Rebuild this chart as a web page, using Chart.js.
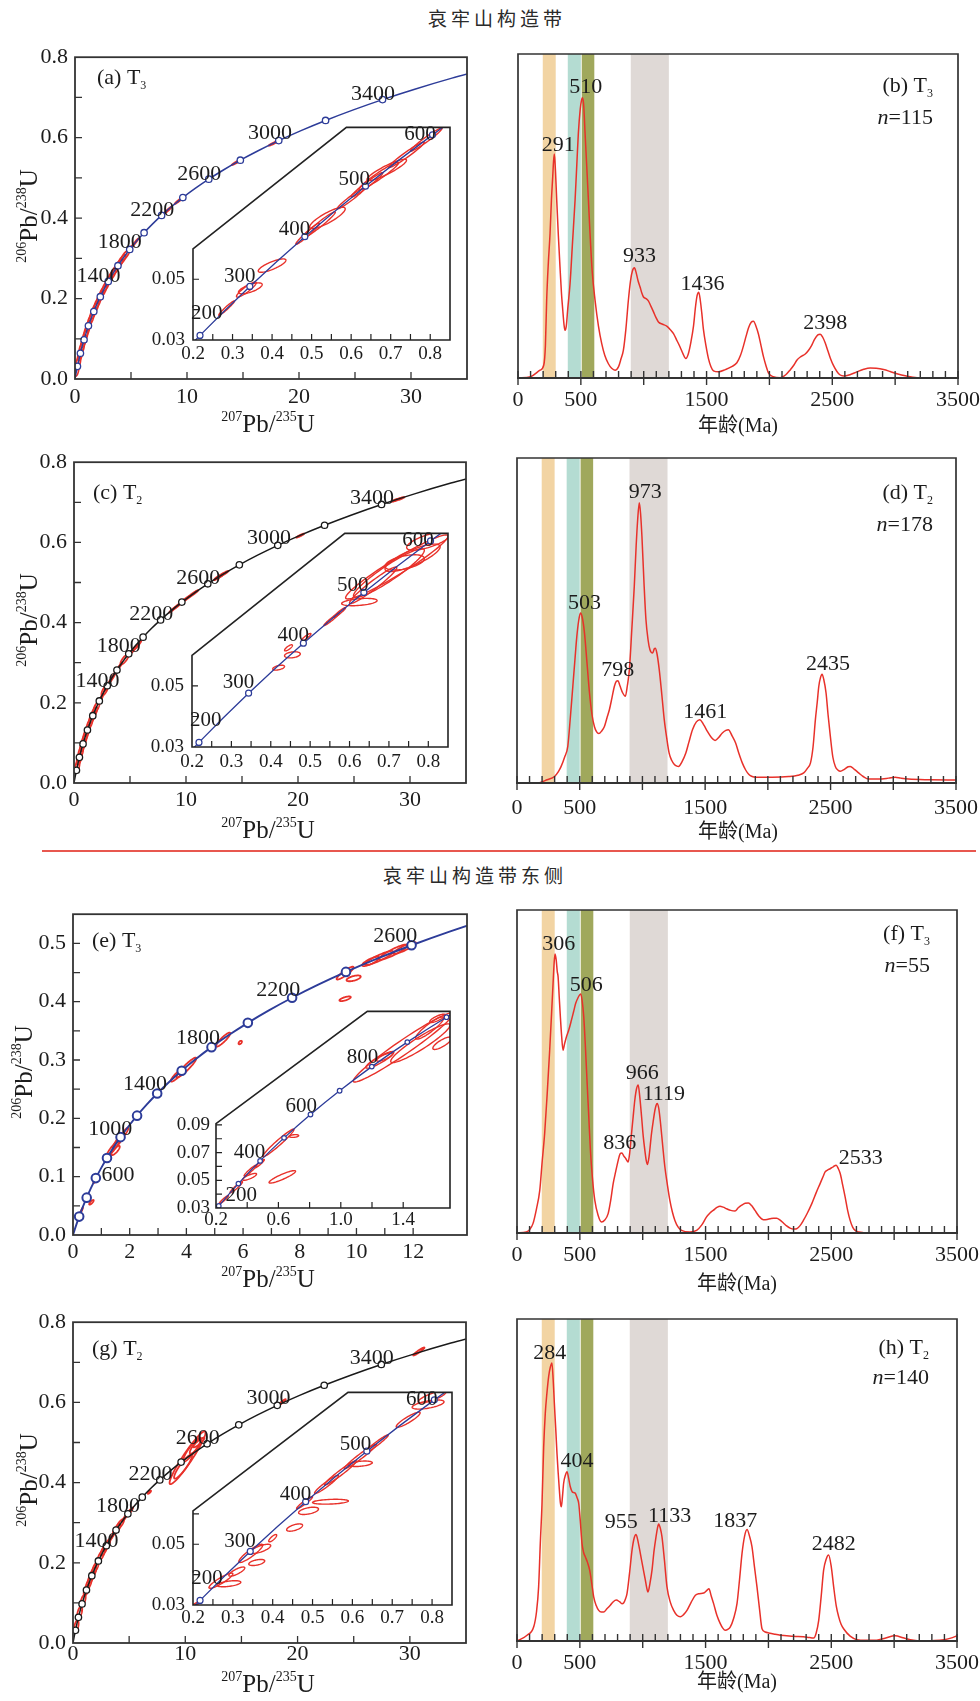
<!DOCTYPE html>
<html>
<head>
<meta charset="utf-8">
<script src="https://cdn.jsdelivr.net/npm/chart.js@4.4.1/dist/chart.umd.min.js"></script>
<style>
html,body{margin:0;padding:0;background:#fff;}
body{width:980px;height:1701px;position:relative;overflow:hidden;}
.ttl{position:absolute;font-family:'Noto Sans CJK SC',sans-serif;font-size:19px;line-height:20px;letter-spacing:4px;color:#2a2a2a;white-space:nowrap;}
.sep{position:absolute;left:42px;top:850px;width:934px;height:2px;background:#E8574F;}
</style>
</head>
<body>
<div class="ttl" style="left:428px;top:8px;">哀牢山构造带</div>
<div class="sep"></div>
<div class="ttl" style="left:383px;top:865px;">哀牢山构造带东侧</div>
<script>
// ================= DATA =================
// Concordia reference curve: age (Ma), 207Pb/235U, 206Pb/238U
const concAges = [0,100,200,300,400,500,600,700,800,900,1000,1100,1200,1300,1400,1500,1600,1700,1800,1900,2000,2100,2200,2300,2400,2500,2600,2700,2800,2900,3000,3100,3200,3300,3400,3500,3600,3700];
const concX = [0,0.1035,0.2177,0.3437,0.4828,0.6363,0.8057,0.9925,1.1987,1.4263,1.6774,1.9545,2.2603,2.5977,2.9700,3.3810,3.8344,4.3340,4.8868,5.4962,6.1685,6.9105,7.7292,8.6326,9.6295,10.7297,11.944,13.284,14.762,16.394,18.193,20.180,22.372,24.790,27.459,30.405,33.656,37.24];
const concY = [0,0.01563,0.03151,0.04764,0.06402,0.08065,0.09754,0.11470,0.13213,0.14983,0.16780,0.18606,0.20459,0.22343,0.24258,0.26199,0.28172,0.30175,0.32210,0.34277,0.36375,0.38509,0.40672,0.42873,0.45107,0.47375,0.49678,0.52019,0.54400,0.56810,0.59262,0.61751,0.64278,0.66848,0.69459,0.72106,0.74797,0.77520];

// Concordia age labels (text, x, y)
const mainAgeText = ['1400','1800','2200','2600','3000','3400'];
const mainAgeX = [2.1,4.0,6.9,11.1,17.4,26.6];
const mainAgeY = [0.255,0.341,0.42,0.51,0.61,0.709];
const insetAgeText = ['200','300','400','500','600'];
const insetAgeX = [0.235,0.318,0.457,0.608,0.774];
const insetAgeY = [0.0386,0.051,0.0665,0.083,0.0976];
const eAgeText = ['600','1000','1400','1800','2200','2600'];
const eAgeX = [1.59,1.31,2.54,4.41,7.24,11.37];
const eAgeY = [0.103,0.182,0.258,0.338,0.42,0.512];
const eInsetAgeText = ['200','400','600','800'];
const eInsetAgeX = [0.362,0.414,0.747,1.139];
const eInsetAgeY = [0.0392,0.0698,0.103,0.139];

// Error ellipses: [207Pb/235U, 206Pb/238U, half-width x, half-width y, correlation]
const ellA = [[0.15,0.0221,0.19,0.0150,0.45],[0.30,0.0420,0.20,0.0145,0.48],[0.45,0.0602,0.21,0.0145,0.50],[0.60,0.0767,0.22,0.0143,0.53],[0.75,0.0920,0.22,0.0142,0.56],[0.90,0.1062,0.23,0.0141,0.59],[1.05,0.1196,0.24,0.0140,0.62],[1.20,0.1322,0.25,0.0140,0.64],[1.40,0.1478,0.26,0.0138,0.67],[1.60,0.1623,0.27,0.0137,0.69],[1.80,0.1759,0.28,0.0136,0.70],[2.00,0.1888,0.28,0.0135,0.71],[2.25,0.2040,0.29,0.0134,0.72],[2.50,0.2180,0.30,0.0133,0.73],[2.75,0.2313,0.30,0.0132,0.74],[3.00,0.2440,0.31,0.0130,0.755],[3.30,0.2582,0.32,0.0128,0.76],[3.60,0.2715,0.33,0.0126,0.77],[3.90,0.2843,0.34,0.0125,0.775],[4.20,0.2964,0.34,0.0123,0.78],[4.50,0.3079,0.35,0.0122,0.787],[5.00,0.326,0.30,0.011,0.97],[5.40,0.340,0.25,0.009,0.97],[8.30,0.420,0.35,0.009,0.97],[9.30,0.444,0.40,0.009,0.97],[14.5,0.540,0.50,0.008,0.97],[17.8,0.587,0.50,0.007,0.97]];
const ellAin = [[0.285,0.0405,0.020,0.0024,0.97],[0.335,0.0466,0.025,0.0025,0.9],[0.345,0.0470,0.030,0.0018,0.7],[0.40,0.0545,0.035,0.0022,0.8],[0.49,0.0650,0.030,0.0035,0.97],[0.52,0.0680,0.040,0.0042,0.97],[0.54,0.0702,0.045,0.0035,0.85],[0.60,0.0767,0.035,0.0035,0.97],[0.64,0.0811,0.040,0.0040,0.97],[0.67,0.0840,0.050,0.0045,0.96],[0.69,0.0860,0.050,0.0035,0.9],[0.74,0.0910,0.045,0.0042,0.97],[0.79,0.0960,0.040,0.0038,0.97]];
const ellC = [[0.30,0.0420,0.20,0.0145,0.48],[0.45,0.0602,0.21,0.0145,0.50],[0.60,0.0767,0.22,0.0143,0.53],[0.75,0.0920,0.22,0.0142,0.56],[0.90,0.1062,0.23,0.0141,0.59],[1.05,0.1196,0.24,0.0140,0.62],[1.20,0.1322,0.25,0.0140,0.64],[1.40,0.1478,0.26,0.0138,0.67],[1.60,0.1623,0.27,0.0137,0.69],[1.80,0.1759,0.28,0.0136,0.70],[2.00,0.1888,0.28,0.0135,0.71],[2.40,0.210,0.25,0.014,0.95],[2.75,0.2313,0.30,0.0132,0.74],[3.00,0.243,0.30,0.015,0.97],[3.50,0.266,0.30,0.014,0.97],[4.00,0.288,0.30,0.012,0.97],[4.50,0.3079,0.35,0.0122,0.787],[5.30,0.332,0.35,0.012,0.97],[5.70,0.344,0.30,0.010,0.97],[8.80,0.432,0.30,0.007,0.97],[9.20,0.441,0.40,0.009,0.97],[9.90,0.457,0.50,0.010,0.97],[10.6,0.471,0.50,0.010,0.97],[12.9,0.513,0.40,0.007,0.95],[13.2,0.519,0.60,0.010,0.97],[20.2,0.617,0.35,0.005,0.95],[28.9,0.707,0.60,0.006,0.95]];
const ellCin = [[0.42,0.0560,0.015,0.0008,0.5],[0.455,0.0602,0.020,0.0010,0.3],[0.445,0.0625,0.010,0.0010,0.8],[0.49,0.0660,0.012,0.0012,0.9],[0.555,0.0719,0.020,0.0021,0.97],[0.575,0.0741,0.015,0.0016,0.95],[0.625,0.0775,0.045,0.0012,0.4],[0.66,0.0830,0.060,0.0060,0.96],[0.72,0.0890,0.130,0.0105,0.96],[0.70,0.0870,0.090,0.0080,0.93],[0.76,0.0920,0.070,0.0045,0.8],[0.80,0.0975,0.055,0.0030,0.7],[0.74,0.0905,0.050,0.0025,0.5]];
const ellE = [[0.30,0.042,0.05,0.005,0.95],[0.50,0.066,0.05,0.005,0.95],[0.65,0.056,0.08,0.004,0.8],[0.80,0.095,0.08,0.006,0.9],[1.40,0.148,0.20,0.012,0.9],[1.60,0.161,0.20,0.014,0.9],[1.50,0.145,0.15,0.008,0.8],[1.80,0.174,0.15,0.010,0.9],[3.70,0.275,0.25,0.012,0.9],[4.00,0.287,0.35,0.017,0.93],[5.30,0.335,0.25,0.012,0.9],[5.90,0.330,0.06,0.003,0.5],[9.60,0.449,0.30,0.011,0.9],[9.90,0.440,0.25,0.005,0.6],[9.60,0.405,0.20,0.004,0.7],[10.5,0.469,0.30,0.008,0.8],[10.8,0.475,0.50,0.012,0.9],[11.3,0.485,0.50,0.013,0.9],[11.7,0.492,0.40,0.010,0.9]];
const ellEin = [[0.25,0.036,0.03,0.003,0.95],[0.33,0.045,0.04,0.004,0.95],[0.42,0.057,0.04,0.004,0.95],[0.48,0.062,0.03,0.003,0.95],[0.415,0.0525,0.045,0.0025,0.8],[0.60,0.077,0.10,0.010,0.97],[0.70,0.082,0.03,0.001,0.3],[0.625,0.0525,0.085,0.0045,0.9],[1.25,0.137,0.09,0.006,0.9],[1.28,0.139,0.05,0.003,0.8],[1.40,0.146,0.32,0.025,0.97],[1.51,0.149,0.19,0.014,0.93],[1.57,0.160,0.09,0.008,0.9],[1.65,0.149,0.06,0.0045,0.8],[1.62,0.167,0.05,0.003,0.8]];
const ellG = [[0.30,0.0420,0.20,0.0145,0.48],[0.60,0.0767,0.22,0.0143,0.53],[0.90,0.1062,0.23,0.0141,0.59],[1.20,0.1322,0.25,0.0140,0.64],[1.40,0.1478,0.26,0.0138,0.67],[1.60,0.1623,0.27,0.0137,0.69],[1.80,0.1759,0.28,0.0136,0.70],[2.00,0.1888,0.28,0.0135,0.71],[2.20,0.201,0.20,0.010,0.95],[2.50,0.2180,0.30,0.0133,0.73],[2.75,0.2313,0.30,0.0132,0.74],[3.00,0.2440,0.31,0.0130,0.755],[3.20,0.254,0.30,0.013,0.95],[3.60,0.271,0.25,0.011,0.95],[3.90,0.2843,0.34,0.0125,0.775],[4.20,0.2964,0.34,0.0123,0.78],[4.60,0.312,0.25,0.010,0.95],[5.00,0.326,0.35,0.012,0.95],[6.80,0.376,0.15,0.004,0.8],[9.80,0.440,0.80,0.030,0.9],[10.2,0.462,1.60,0.066,0.95],[10.6,0.482,0.80,0.030,0.9],[10.9,0.490,0.50,0.018,0.85],[11.2,0.500,0.50,0.012,0.9],[18.6,0.600,0.35,0.008,0.95],[30.8,0.727,0.50,0.010,0.95]];
const ellGin = [[0.21,0.0305,0.012,0.0008,0.9],[0.27,0.0380,0.030,0.0025,0.9],[0.29,0.0370,0.030,0.0010,0.5],[0.31,0.0410,0.020,0.0015,0.8],[0.345,0.0470,0.030,0.0030,0.9],[0.37,0.0485,0.025,0.0015,0.7],[0.36,0.0440,0.020,0.0010,0.5],[0.40,0.0520,0.010,0.0012,0.8],[0.455,0.0555,0.020,0.0012,0.6],[0.49,0.0610,0.025,0.0012,0.5],[0.48,0.0637,0.020,0.0020,0.95],[0.545,0.0640,0.045,0.0008,0.3],[0.535,0.0697,0.030,0.0030,0.95],[0.57,0.0735,0.040,0.0040,0.97],[0.62,0.0765,0.030,0.0009,0.4],[0.62,0.0789,0.040,0.0040,0.97],[0.66,0.0830,0.030,0.0030,0.97],[0.74,0.0910,0.030,0.0025,0.9],[0.79,0.0960,0.040,0.0015,0.6],[0.80,0.0985,0.035,0.0020,0.8]];

// KDE curves: [age (Ma), relative density]
const kdeB = [[0,0],[100,0.004],[175,0.024],[205,0.04],[218,0.1],[228,0.24],[242,0.36],[255,0.446],[266,0.55],[276,0.62],[283,0.67],[289,0.691],[298,0.64],[308,0.549],[321,0.44],[334,0.343],[346,0.26],[356,0.21],[366,0.165],[374,0.147],[384,0.16],[395,0.21],[414,0.291],[434,0.42],[454,0.549],[468,0.66],[480,0.755],[495,0.83],[505,0.857],[512,0.865],[522,0.845],[533,0.76],[547,0.652],[560,0.55],[573,0.446],[590,0.33],[613,0.24],[640,0.16],[666,0.106],[690,0.07],[719,0.044],[745,0.03],[772,0.024],[800,0.035],[820,0.06],[838,0.085],[858,0.15],[878,0.24],[895,0.3],[910,0.33],[926,0.34],[940,0.325],[955,0.3],[971,0.281],[985,0.262],[998,0.25],[1015,0.246],[1037,0.238],[1057,0.222],[1077,0.205],[1097,0.187],[1117,0.173],[1150,0.166],[1183,0.16],[1210,0.15],[1237,0.137],[1265,0.115],[1290,0.095],[1312,0.075],[1335,0.06],[1355,0.075],[1375,0.11],[1396,0.16],[1412,0.22],[1425,0.255],[1438,0.265],[1450,0.24],[1462,0.2],[1475,0.15],[1495,0.1],[1515,0.06],[1535,0.035],[1555,0.022],[1595,0.019],[1650,0.026],[1700,0.035],[1741,0.047],[1770,0.07],[1794,0.1],[1815,0.13],[1834,0.155],[1855,0.172],[1873,0.175],[1893,0.16],[1913,0.135],[1933,0.1],[1953,0.065],[1975,0.035],[1993,0.015],[2030,0.004],[2086,0.001],[2130,0.01],[2165,0.025],[2195,0.04],[2218,0.055],[2250,0.066],[2285,0.074],[2310,0.085],[2335,0.1],[2360,0.12],[2385,0.133],[2404,0.135],[2425,0.125],[2444,0.108],[2464,0.085],[2484,0.062],[2510,0.038],[2537,0.02],[2560,0.01],[2590,0.006],[2640,0.01],[2696,0.019],[2750,0.027],[2802,0.031],[2850,0.03],[2908,0.026],[2960,0.02],[3014,0.013],[3090,0.006],[3174,0.001],[3300,0],[3500,0]];
const kdeD = [[0,0],[150,0],[180,0.001],[240,0.01],[299,0.02],[330,0.035],[352,0.051],[380,0.08],[405,0.113],[425,0.2],[445,0.297],[462,0.38],[477,0.451],[492,0.5],[506,0.523],[520,0.51],[538,0.462],[558,0.37],[578,0.277],[598,0.21],[617,0.174],[635,0.157],[652,0.152],[675,0.16],[697,0.174],[717,0.2],[737,0.226],[757,0.262],[776,0.297],[792,0.313],[805,0.315],[820,0.3],[843,0.277],[864,0.267],[880,0.3],[896,0.349],[915,0.47],[935,0.605],[950,0.73],[962,0.81],[975,0.862],[985,0.83],[996,0.759],[1012,0.62],[1028,0.503],[1045,0.44],[1060,0.41],[1081,0.4],[1095,0.413],[1102,0.415],[1115,0.4],[1134,0.349],[1155,0.27],[1174,0.195],[1195,0.135],[1213,0.092],[1233,0.07],[1253,0.058],[1275,0.052],[1288,0.051],[1315,0.065],[1346,0.092],[1370,0.125],[1399,0.164],[1430,0.188],[1457,0.195],[1490,0.178],[1518,0.159],[1550,0.14],[1579,0.131],[1608,0.14],[1637,0.154],[1665,0.162],[1685,0.164],[1715,0.145],[1743,0.123],[1770,0.09],[1796,0.062],[1823,0.04],[1849,0.026],[1875,0.02],[1902,0.018],[2035,0.018],[2167,0.02],[2240,0.024],[2286,0.031],[2315,0.045],[2340,0.062],[2360,0.11],[2379,0.195],[2394,0.25],[2406,0.297],[2420,0.325],[2432,0.335],[2445,0.32],[2464,0.277],[2480,0.21],[2498,0.144],[2518,0.08],[2538,0.051],[2558,0.04],[2578,0.036],[2610,0.042],[2640,0.05],[2657,0.051],[2690,0.042],[2724,0.031],[2760,0.02],[2803,0.012],[2880,0.012],[2962,0.015],[3015,0.018],[3060,0.015],[3121,0.012],[3300,0.01],[3500,0.009]];
const kdeF = [[0,0],[74,0.003],[100,0.01],[127,0.029],[155,0.075],[181,0.132],[200,0.22],[220,0.308],[240,0.43],[260,0.566],[275,0.68],[287,0.773],[296,0.84],[303,0.864],[312,0.845],[320,0.81],[327,0.793],[336,0.73],[345,0.669],[355,0.61],[366,0.566],[378,0.585],[393,0.607],[413,0.63],[433,0.659],[450,0.685],[467,0.711],[487,0.73],[500,0.738],[507,0.74],[518,0.72],[531,0.669],[545,0.57],[558,0.463],[571,0.36],[584,0.256],[600,0.17],[619,0.101],[645,0.055],[672,0.034],[698,0.04],[725,0.06],[745,0.1],[765,0.153],[785,0.19],[805,0.225],[820,0.245],[834,0.248],[850,0.238],[866,0.23],[884,0.22],[897,0.25],[911,0.308],[924,0.36],[937,0.411],[950,0.445],[964,0.458],[977,0.42],[991,0.36],[1004,0.3],[1017,0.256],[1028,0.225],[1038,0.212],[1050,0.235],[1070,0.308],[1085,0.35],[1097,0.38],[1106,0.395],[1115,0.401],[1128,0.385],[1142,0.339],[1159,0.27],[1176,0.205],[1196,0.15],[1216,0.101],[1236,0.065],[1256,0.039],[1282,0.018],[1309,0.008],[1376,0.003],[1429,0.008],[1470,0.025],[1508,0.05],[1535,0.062],[1561,0.07],[1590,0.079],[1615,0.083],[1640,0.08],[1668,0.075],[1700,0.07],[1734,0.068],[1760,0.078],[1787,0.086],[1815,0.092],[1840,0.093],[1866,0.085],[1893,0.07],[1925,0.052],[1960,0.041],[1990,0.042],[2013,0.044],[2040,0.046],[2066,0.046],[2093,0.04],[2119,0.031],[2145,0.022],[2172,0.015],[2200,0.012],[2225,0.013],[2250,0.022],[2278,0.039],[2310,0.062],[2345,0.091],[2380,0.125],[2411,0.153],[2435,0.175],[2451,0.189],[2470,0.195],[2491,0.199],[2515,0.205],[2539,0.21],[2555,0.2],[2571,0.184],[2590,0.15],[2610,0.112],[2630,0.07],[2650,0.039],[2670,0.018],[2690,0.008],[2720,0.003],[2756,0.001],[2800,0],[3500,0]];
const kdeH = [[0,0],[80,0.018],[133,0.044],[155,0.09],[172,0.168],[185,0.3],[199,0.427],[212,0.6],[225,0.707],[238,0.77],[252,0.822],[265,0.85],[278,0.863],[288,0.81],[297,0.739],[308,0.66],[318,0.583],[328,0.52],[337,0.469],[345,0.43],[353,0.417],[362,0.45],[371,0.49],[385,0.515],[398,0.526],[411,0.505],[424,0.479],[440,0.463],[452,0.461],[464,0.459],[478,0.445],[491,0.427],[504,0.37],[517,0.303],[530,0.275],[544,0.261],[560,0.245],[578,0.22],[594,0.18],[610,0.137],[630,0.11],[650,0.095],[670,0.09],[689,0.09],[715,0.1],[742,0.111],[766,0.122],[790,0.127],[815,0.122],[835,0.116],[848,0.118],[862,0.13],[875,0.147],[895,0.21],[915,0.282],[932,0.32],[947,0.331],[965,0.305],[981,0.272],[1001,0.23],[1021,0.189],[1032,0.165],[1042,0.152],[1058,0.18],[1074,0.22],[1090,0.28],[1106,0.324],[1117,0.35],[1127,0.363],[1140,0.35],[1153,0.324],[1173,0.25],[1193,0.168],[1220,0.12],[1246,0.095],[1272,0.08],[1299,0.075],[1325,0.082],[1352,0.095],[1385,0.12],[1419,0.142],[1450,0.147],[1485,0.149],[1510,0.157],[1527,0.162],[1545,0.14],[1564,0.116],[1590,0.08],[1617,0.054],[1637,0.04],[1657,0.033],[1677,0.036],[1697,0.044],[1723,0.07],[1750,0.116],[1770,0.19],[1790,0.272],[1810,0.325],[1830,0.346],[1850,0.325],[1869,0.293],[1889,0.23],[1909,0.168],[1929,0.1],[1949,0.038],[1975,0.028],[2002,0.025],[2050,0.021],[2095,0.018],[2200,0.015],[2307,0.012],[2360,0.009],[2380,0.025],[2400,0.064],[2420,0.14],[2439,0.22],[2460,0.255],[2479,0.267],[2500,0.23],[2519,0.168],[2539,0.11],[2559,0.075],[2578,0.052],[2598,0.038],[2650,0.015],[2705,0.004],[2770,0.002],[2837,0.002],[2920,0.008],[3009,0.016],[3070,0.01],[3129,0.004],[3235,0],[3300,0.001],[3394,0.004],[3450,0.009],[3500,0.016]];

// Peak age labels: text, label-anchor age, label-anchor density
const peaksB = [['291',321,0.719],['510',539,0.897],['933',966,0.376],['1436',1467,0.289],['2398',2444,0.168]];
const peaksD = [['503',538,0.552],['798',803,0.347],['973',1023,0.894],['1461',1500,0.217],['2435',2480,0.366]];
const peaksF = [['306',332,0.894],['506',550,0.768],['836',818,0.277],['966',996,0.496],['1119',1168,0.429],['2533',2735,0.233]];
const peaksH = [['284',260,0.894],['404',477,0.559],['955',830,0.37],['1133',1214,0.388],['1837',1737,0.373],['2482',2519,0.3]];

// Shaded age intervals (Ma)
const bandStart = [197,396,507,897];
const bandEnd = [300,500,607,1200];
const bandColor = ['#F2D4A3','#B4DCD2','#A0A85C','#DFD9D6'];
const kdeTickLabels = [0,500,1500,2500,3500];

// ================= DRAWING =================
const SERIF = "'Liberation Serif','Times New Roman',serif";
Chart.defaults.font.family = SERIF;
Chart.defaults.color = '#1c1c1c';
const INK = '#1c1c1c', FRAME = '#333333', BLUE = '#2D3C99', BLACK = '#1a1a1a', RED = '#E8312A';

function mk(l,t,w,h){const c=document.createElement('canvas');c.width=w;c.height=h;c.style.cssText='position:absolute;left:'+l+'px;top:'+t+'px;width:'+w+'px;height:'+h+'px;';document.body.appendChild(c);return c;}
function font(size,style){return (style||'')+' '+size+'px '+SERIF;}
function isMult(v,m){const q=v/m;return Math.abs(q-Math.round(q))<1e-6;}
function inList(v,l){return l.some(x=>Math.abs(x-v)<1e-6);}
function rich(ctx,x,y,segs,align){
  let w=0;
  for(const s of segs){ctx.font=font(s.size,s.style);s.w=ctx.measureText(s.t).width;w+=s.w;}
  let cx=align==='right'?x-w:align==='center'?x-w/2:x;
  ctx.textAlign='left';ctx.textBaseline='alphabetic';ctx.fillStyle=INK;
  for(const s of segs){ctx.font=font(s.size,s.style);ctx.fillText(s.t,cx,y+(s.dy||0));cx+=s.w;}
}
function isoSegs(a,b){return [{t:a,size:14,dy:-11},{t:'Pb/',size:25},{t:b,size:14,dy:-11},{t:'U',size:25}];}
function ctext(ctx,t,x,y,size){ctx.font=font(size);ctx.fillStyle=INK;ctx.textAlign='center';ctx.textBaseline='middle';ctx.fillText(t,x,y);}
function drawEll(c,list,lw){
  const ctx=c.ctx,xs=c.scales.x,ys=c.scales.y;
  ctx.save();ctx.strokeStyle=RED;ctx.lineWidth=lw;
  for(const [x,y,sx,sy,r] of list){
    const q=Math.sqrt(1-r*r);ctx.beginPath();
    for(let i=0;i<=64;i++){const t=i/64*2*Math.PI;const px=xs.getPixelForValue(x+sx*Math.cos(t)),py=ys.getPixelForValue(y+sy*(r*Math.cos(t)+q*Math.sin(t)));if(i===0)ctx.moveTo(px,py);else ctx.lineTo(px,py);}
    ctx.closePath();ctx.stroke();
  }
  ctx.restore();
}
function baseOpts(){return {responsive:false,devicePixelRatio:1,animation:false,events:[],plugins:{legend:{display:false},tooltip:{enabled:false}}};}
function concPoints(filter){return concAges.map((a,i)=>({age:a,x:concX[i],y:concY[i]})).filter(filter);}

function concordiaMain(o){
  const P=o.plot, cl=o.cl, ct=P.t-16, cw=o.cw, ch=P.b+70-ct;
  const cv=mk(cl,ct,cw,ch);
  const opts=baseOpts();
  opts.layout={padding:{left:0,right:cl+cw-P.r,top:16,bottom:0}};
  opts.scales={
    x:{type:'linear',min:0,max:o.xMax,grid:{display:false,drawTicks:false},border:{display:false},
       ticks:{stepSize:o.xStep,autoSkip:false,maxRotation:0,minRotation:0,padding:o.xPad,font:{size:22,family:SERIF},color:INK,
       callback:v=>isMult(v,o.xLab)?String(Math.round(v)):''},
       afterFit:s=>{s.height=70;}},
    y:{type:'linear',min:0,max:o.yMax,grid:{display:false,drawTicks:false},border:{display:false},
       ticks:{stepSize:o.yStep,autoSkip:false,padding:7,font:{size:22,family:SERIF},color:INK,
       callback:v=>isMult(v,o.yLab)?v.toFixed(1):''},
       afterFit:s=>{s.width=P.l-cl;}}
  };
  new Chart(cv,{type:'scatter',
    data:{datasets:[
      {data:concPoints(p=>p.age>0&&p.age%200===0&&p.age<=o.maxMark),showLine:false,pointRadius:o.mr,pointBorderWidth:o.mw,pointBorderColor:o.color,pointBackgroundColor:'#fff'},
      {data:concPoints(()=>true),showLine:true,borderColor:o.color,borderWidth:o.lw,pointRadius:0,cubicInterpolationMode:'monotone'}
    ]},
    options:opts,
    plugins:[{id:'cm',
      beforeDatasetsDraw(c){const a=c.chartArea,ctx=c.ctx;ctx.save();ctx.beginPath();ctx.rect(a.left,a.top,a.right-a.left,a.bottom-a.top);ctx.clip();drawEll(c,o.ell,1.8);ctx.restore();},
      afterDraw(c){
        const ctx=c.ctx,a=c.chartArea,xs=c.scales.x,ys=c.scales.y;
        ctx.save();
        ctx.strokeStyle=FRAME;ctx.lineWidth=1.8;ctx.strokeRect(a.left,a.top,a.right-a.left,a.bottom-a.top);
        ctx.lineWidth=1.3;ctx.beginPath();
        xs.ticks.forEach(t=>{const p=xs.getPixelForValue(t.value);if(p>a.left+1&&p<a.right-1){ctx.moveTo(p,a.bottom);ctx.lineTo(p,a.bottom-7);}});
        ys.ticks.forEach(t=>{const p=ys.getPixelForValue(t.value);if(p>a.top+1&&p<a.bottom-1){ctx.moveTo(a.left,p);ctx.lineTo(a.left+7,p);}});
        ctx.stroke();
        o.lab[0].forEach((s,i)=>ctext(ctx,s,xs.getPixelForValue(o.lab[1][i]),ys.getPixelForValue(o.lab[2][i]),22));
        rich(ctx,o.pl.x-cl,o.pl.y-ct+7,[{t:o.pl.t,size:22},{t:o.pl.sub,size:12,dy:5}],'left');
        rich(ctx,o.xt.x-cl,o.xt.y-ct,isoSegs('207','235'),'center');
        ctx.save();ctx.translate(o.yt.x-cl,o.yt.y-ct);ctx.rotate(-Math.PI/2);rich(ctx,0,0,isoSegs('206','238'),'center');ctx.restore();
        ctx.restore();
      }}]
  });
}

function pentPath(ctx,c,o){
  const a=c.chartArea,xs=c.scales.x,ys=c.scales.y;
  const LT=ys.getPixelForValue(o.cutY),DX=xs.getPixelForValue(o.cutX);
  ctx.beginPath();ctx.moveTo(a.left,a.bottom);ctx.lineTo(a.left,LT);ctx.lineTo(DX,a.top);ctx.lineTo(a.right,a.top);ctx.lineTo(a.right,a.bottom);ctx.closePath();
  return LT;
}

function concordiaInset(o){
  const R=o.rect, cl=R.l-52, ct=R.t-14, cw=R.r+10-cl, ch=R.b+34-ct;
  const cv=mk(cl,ct,cw,ch);
  const opts=baseOpts();
  opts.layout={padding:{left:0,right:10,top:14,bottom:0}};
  opts.scales={
    x:{type:'linear',min:o.xMin,max:o.xMax,grid:{display:false,drawTicks:false},border:{display:false},
       ticks:{stepSize:o.xStep,autoSkip:false,maxRotation:0,minRotation:0,padding:o.xPad,font:{size:19,family:SERIF},color:INK,
       callback:v=>inList(v,o.xLabs)?v.toFixed(1):''},
       afterFit:s=>{s.height=34;}},
    y:{type:'linear',min:0.03,max:o.yMax,grid:{display:false,drawTicks:false},border:{display:false},
       ticks:{stepSize:0.01,autoSkip:false,padding:o.yPad,font:{size:19,family:SERIF},color:INK,
       callback:v=>inList(v,o.yLabs)?v.toFixed(2):''},
       afterFit:s=>{s.width=52;}}
  };
  new Chart(cv,{type:'scatter',
    data:{datasets:[
      {data:concPoints(p=>p.age>=200&&p.age<=o.maxMark),showLine:false,pointRadius:o.mr,pointBorderWidth:1.2,pointBorderColor:BLUE,pointBackgroundColor:'#fff'},
      {data:concPoints(p=>p.age<=o.maxLine),showLine:true,borderColor:BLUE,borderWidth:1.3,pointRadius:0,cubicInterpolationMode:'monotone'}
    ]},
    options:opts,
    plugins:[{id:'ci',
      beforeDraw(c){const ctx=c.ctx;ctx.save();pentPath(ctx,c,o);ctx.fillStyle='#fff';ctx.fill();ctx.restore();},
      beforeDatasetsDraw(c){const ctx=c.ctx;ctx.save();pentPath(ctx,c,o);ctx.clip();drawEll(c,o.ell,1.4);},
      afterDatasetsDraw(c){c.ctx.restore();},
      afterDraw(c){
        const ctx=c.ctx,a=c.chartArea,xs=c.scales.x,ys=c.scales.y;
        ctx.save();
        ctx.strokeStyle='#222';ctx.lineWidth=1.6;const LT=pentPath(ctx,c,o);ctx.stroke();
        ctx.lineWidth=1.2;ctx.beginPath();
        xs.ticks.forEach(t=>{const p=xs.getPixelForValue(t.value);if(p>a.left+1&&p<a.right-1){ctx.moveTo(p,a.bottom);ctx.lineTo(p,a.bottom-6);}});
        ys.ticks.forEach(t=>{const p=ys.getPixelForValue(t.value);if(p>LT+1&&p<a.bottom-1){ctx.moveTo(a.left,p);ctx.lineTo(a.left+6,p);}});
        ctx.stroke();
        o.lab[0].forEach((s,i)=>ctext(ctx,s,xs.getPixelForValue(o.lab[1][i]),ys.getPixelForValue(o.lab[2][i]),21));
        ctx.restore();
      }}]
  });
}

function kde(o){
  const P=o.plot, cl=490, ct=P.t-16, cw=500, ch=P.b+70-ct;
  const cv=mk(cl,ct,cw,ch);
  const opts=baseOpts();
  opts.layout={padding:{left:0,right:cl+cw-P.r,top:16,bottom:0}};
  opts.scales={
    x:{type:'linear',min:0,max:3500,grid:{display:false,drawTicks:false},border:{display:false},
       ticks:{stepSize:100,autoSkip:false,maxRotation:0,minRotation:0,padding:o.xPad,font:{size:22,family:SERIF},color:INK,
       callback:v=>(isMult(v,1)&&kdeTickLabels.includes(Math.round(v)))?String(Math.round(v)):''},
       afterFit:s=>{s.height=70;}},
    y:{type:'linear',display:true,min:0,max:1,grid:{display:false,drawTicks:false},border:{display:false},
       ticks:{display:false},afterFit:s=>{s.width=P.l-cl;}}
  };
  new Chart(cv,{type:'scatter',
    data:{datasets:[{data:o.data.map(d=>({x:d[0],y:d[1]})),showLine:true,borderColor:RED,borderWidth:1.5,pointRadius:0,cubicInterpolationMode:'monotone'}]},
    options:opts,
    plugins:[{id:'kd',
      beforeDatasetsDraw(c){const ctx=c.ctx,a=c.chartArea,xs=c.scales.x;ctx.save();bandStart.forEach((s,i)=>{const x0=xs.getPixelForValue(s),x1=xs.getPixelForValue(bandEnd[i]);ctx.fillStyle=bandColor[i];ctx.fillRect(x0,a.top,x1-x0,a.bottom-a.top);});ctx.restore();},
      afterDraw(c){
        const ctx=c.ctx,a=c.chartArea,xs=c.scales.x,ys=c.scales.y;
        ctx.save();
        ctx.strokeStyle=FRAME;ctx.lineWidth=1.7;ctx.beginPath();ctx.moveTo(a.left,a.bottom);ctx.lineTo(a.left,a.top);ctx.lineTo(a.right,a.top);ctx.lineTo(a.right,a.bottom);ctx.stroke();
        ctx.lineWidth=2.2;ctx.beginPath();ctx.moveTo(a.left-1,a.bottom);ctx.lineTo(a.right+1,a.bottom);ctx.stroke();
        ctx.lineWidth=1.4;ctx.beginPath();
        xs.ticks.forEach(t=>{const p=xs.getPixelForValue(t.value);const major=isMult(t.value,500);ctx.moveTo(p,a.bottom-7);ctx.lineTo(p,major?a.bottom+7:a.bottom);});
        ctx.stroke();
        o.peaks.forEach(pk=>ctext(ctx,pk[0],xs.getPixelForValue(pk[1]),ys.getPixelForValue(pk[2]),22));
        rich(ctx,o.pl.x-cl,o.pl.y1-ct+7,[{t:o.pl.t,size:22},{t:o.pl.sub,size:12,dy:5}],'right');
        rich(ctx,o.pl.x-cl,o.pl.y2-ct+7,[{t:'n',size:22,style:'italic'},{t:o.pl.n,size:22}],'right');
        ctx.font="20px 'Liberation Serif','Noto Sans CJK SC',serif";ctx.fillStyle=INK;ctx.textAlign='center';ctx.textBaseline='middle';
        ctx.fillText('年龄(Ma)',o.xt.x-cl,o.xt.y-ct);
        ctx.restore();
      }}]
  });
}

// ---- main concordia panels ----
const mainLab=[mainAgeText,mainAgeX,mainAgeY];
concordiaMain({plot:{l:75,t:53,r:467,b:379},cl:0,cw:490,xMax:35,xStep:5,xLab:10,yMax:0.8,yStep:0.1,yLab:0.2,color:BLUE,lw:1.5,mr:3.2,mw:1.3,maxMark:3400,ell:ellA,lab:mainLab,pl:{x:97,y:77,t:'(a) T',sub:'3'},xt:{x:268,y:432},yt:{x:37,y:216},xPad:5});
concordiaMain({plot:{l:74,t:458,r:466,b:783},cl:0,cw:490,xMax:35,xStep:5,xLab:10,yMax:0.8,yStep:0.1,yLab:0.2,color:BLACK,lw:1.5,mr:3.2,mw:1.3,maxMark:3400,ell:ellC,lab:mainLab,pl:{x:93,y:492,t:'(c) T',sub:'2'},xt:{x:268,y:838},yt:{x:37,y:620},xPad:4});
concordiaMain({plot:{l:73,t:910,r:467,b:1235},cl:0,cw:490,xMax:13.9,xStep:1,xLab:2,yMax:0.55,yStep:0.05,yLab:0.1,color:BLUE,lw:1.9,mr:4.3,mw:2,maxMark:2600,ell:ellE,lab:[eAgeText,eAgeX,eAgeY],pl:{x:92,y:940,t:'(e) T',sub:'3'},xt:{x:268,y:1287},yt:{x:32,y:1072},xPad:4});
concordiaMain({plot:{l:73,t:1318,r:466,b:1643},cl:0,cw:490,xMax:35,xStep:5,xLab:10,yMax:0.8,yStep:0.1,yLab:0.2,color:BLACK,lw:1.5,mr:3.2,mw:1.3,maxMark:3400,ell:ellG,lab:mainLab,pl:{x:92,y:1348,t:'(g) T',sub:'2'},xt:{x:268,y:1692},yt:{x:37,y:1480},xPad:-2});

// ---- KDE panels ----
kde({plot:{l:518,t:54,r:958,b:378},data:kdeB,peaks:peaksB,pl:{x:933,y1:85,y2:117,t:'(b) T',sub:'3',n:'=115'},xt:{x:738,y:427},xPad:9});
kde({plot:{l:517,t:458,r:958,b:783},data:kdeD,peaks:peaksD,pl:{x:933,y1:492,y2:524,t:'(d) T',sub:'2',n:'=178'},xt:{x:738,y:833},xPad:12});
kde({plot:{l:517,t:910,r:957,b:1233},data:kdeF,peaks:peaksF,pl:{x:930,y1:933,y2:965,t:'(f) T',sub:'3',n:'=55'},xt:{x:737,y:1285},xPad:9});
kde({plot:{l:517,t:1319,r:957,b:1641},data:kdeH,peaks:peaksH,pl:{x:929,y1:1347,y2:1377,t:'(h) T',sub:'2',n:'=140'},xt:{x:737,y:1683},xPad:9});

// ---- insets ----
const insetLab=[insetAgeText,insetAgeX,insetAgeY];
const insetXLabs=[0.2,0.3,0.4,0.5,0.6,0.7,0.8];
concordiaInset({rect:{l:193,t:122,r:450,b:340},xMin:0.2,xMax:0.85,xStep:0.05,xLabs:insetXLabs,yMax:0.1,yLabs:[0.03,0.05],cutX:0.588,cutY:0.06,maxLine:700,maxMark:600,ell:ellAin,lab:insetLab,xPad:3,yPad:8,mr:3});
concordiaInset({rect:{l:192,t:528,r:448,b:747},xMin:0.2,xMax:0.85,xStep:0.05,xLabs:insetXLabs,yMax:0.1,yLabs:[0.03,0.05],cutX:0.588,cutY:0.06,maxLine:700,maxMark:600,ell:ellCin,lab:insetLab,xPad:4,yPad:8,mr:3});
concordiaInset({rect:{l:216,t:1008,r:450,b:1208},xMin:0.2,xMax:1.7,xStep:0.2,xLabs:[0.2,0.6,1.0,1.4],yMax:0.172,yLabs:[0.03,0.05,0.07,0.09],cutX:1.17,cutY:0.091,maxLine:1100,maxMark:1000,ell:ellEin,lab:[eInsetAgeText,eInsetAgeX,eInsetAgeY],xPad:1,yPad:6,mr:2.3});
concordiaInset({rect:{l:193,t:1387,r:452,b:1605},xMin:0.2,xMax:0.85,xStep:0.05,xLabs:insetXLabs,yMax:0.1,yLabs:[0.03,0.05],cutX:0.589,cutY:0.061,maxLine:700,maxMark:600,ell:ellGin,lab:insetLab,xPad:2,yPad:8,mr:3});
</script>
</body>
</html>
